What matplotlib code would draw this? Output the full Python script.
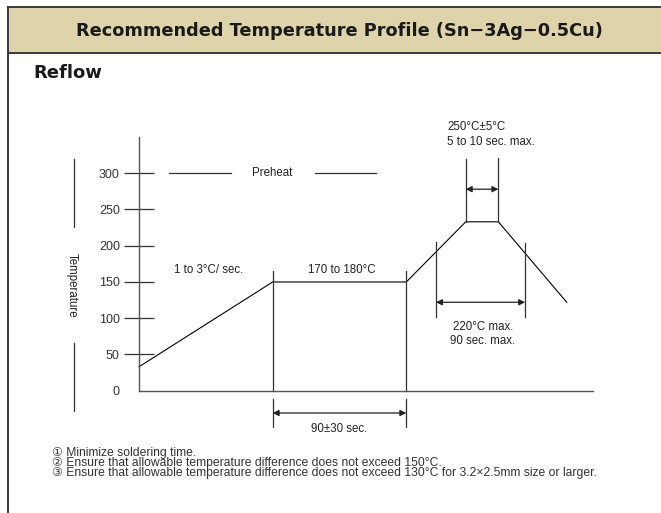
import matplotlib
matplotlib.use("Agg")
import matplotlib.pyplot as plt
from matplotlib.patches import Rectangle
from matplotlib.lines import Line2D

plt.rcParams['font.family'] = ['Liberation Sans', 'DejaVu Sans']

# profile (time in s, temperature in degC)
prof_t = [0, 90, 180, 220, 242, 288]
prof_T = [33, 150, 150, 233, 233, 122]

yticks = [0, 50, 100, 150, 200, 250, 300]

title = "Recommended Temperature Profile (Sn\u22123Ag\u22120.5Cu)"
notes = ["\u2460 Minimize soldering time.",
         "\u2461 Ensure that allowable temperature difference does not exceed 150\u00b0C.",
         "\u2462 Ensure that allowable temperature difference does not exceed 130\u00b0C for 3.2\u00d72.5mm size or larger."]

W, H = 661, 513
fig = plt.figure(figsize=(W / 100, H / 100), dpi=100)
fig.patch.set_facecolor("white")

# header band + frame
fig.patches.append(Rectangle((8 / W, 1 - 53 / H), 1, 46 / H, transform=fig.transFigure,
                             facecolor="#dfd3ab", edgecolor="none", zorder=0))
for xs, ys in [([8, 661], [7, 7]), ([8, 661], [53, 53]), ([8, 8], [7, 513])]:
    fig.add_artist(Line2D([x / W for x in xs], [1 - y / H for y in ys],
                          transform=fig.transFigure, color="#3a3a3a", lw=1.4))
bold = ['DejaVu Sans']
fig.text(339 / W, 1 - 31 / H, title, ha="center", va="center", fontsize=12.8,
         fontweight="bold", color="#1a1a1a", family=bold)
fig.text(33 / W, 1 - 73 / H, "Reflow", ha="left", va="center", fontsize=13.0,
         fontweight="bold", color="#1a1a1a", family=bold)

ax = fig.add_axes([139 / W, 1 - 390.7 / H, (593 - 139) / W, (390.7 - 137) / H])
ax.set_xlim(0, 305.7)
ax.set_ylim(0, 350)
for s in ["top", "right"]:
    ax.spines[s].set_visible(False)
for s in ["left", "bottom"]:
    ax.spines[s].set_color("#555555")
    ax.spines[s].set_linewidth(1.0)
ax.set_xticks([])
ax.set_yticks(yticks)
ax.set_yticklabels([str(v) for v in yticks])
ax.tick_params(axis="y", direction="inout", length=21, width=0.9, color="#333333",
               pad=3.3, labelsize=9, labelcolor="#333333")
ax.yaxis.get_major_ticks()[0].tick1line.set_visible(False)

# profile line
ax.plot(prof_t, prof_T, color="black", lw=0.8, clip_on=False)

kw = dict(color="#333333", lw=0.9, clip_on=False)
# preheat vertical guides and bracket
ax.plot([90, 90], [165, 0], **kw)
ax.plot([180, 180], [165, 0], **kw)
ax.plot([90, 90], [-11.5, -50], **kw)
ax.plot([180, 180], [-11.5, -50], **kw)
# peak bracket
ax.plot([220, 220], [320, 233], **kw)
ax.plot([242, 242], [321, 233], **kw)
# 220 C bracket
ax.plot([200, 200], [205, 102], **kw)
ax.plot([260, 260], [204, 102], **kw)

def harrow(x0, x1, y):
    ax.annotate("", xy=(x0, y), xytext=(x1, y), annotation_clip=False,
                arrowprops=dict(arrowstyle="<|-|>", color="#222222", lw=0.9,
                                mutation_scale=9, shrinkA=0, shrinkB=0))

harrow(90, 180, -30.8)
harrow(220, 242, 278)
harrow(200, 260, 122)

# preheat dashes
ax.plot([20.2, 62], [300, 300], **kw)
ax.plot([118.5, 159.6], [300, 300], **kw)

tk = dict(fontsize=8.3, color="#222222", clip_on=False)
ax.text(89.6, 300, "Preheat", ha="center", va="center", **tk)
ax.text(46.8, 167, "1 to 3\u00b0C/ sec.", ha="center", va="center", **tk)
ax.text(136.5, 167, "170 to 180\u00b0C", ha="center", va="center", **tk)
ax.text(207.6, 353.5, "250\u00b0C\u00b15\u00b0C\n5 to 10 sec. max.", ha="left", va="center",
        linespacing=1.35, **tk)
ax.text(231.5, 78, "220\u00b0C max.\n90 sec. max.", ha="center", va="center",
        linespacing=1.15, **tk)
ax.text(134.5, -52.8, "90\u00b130 sec.", ha="center", va="center", **tk)

# temperature label with side lines
ax.plot([-43.8, -43.8], [320, 226], **kw)
ax.plot([-43.8, -43.8], [66, -28], **kw)
ax.text(-45, 146, "Temperature", rotation=-90, ha="center", va="center", **tk)

fig.text(52 / W, 1 - 447 / H, "\n".join(notes), ha="left", va="top",
         fontsize=8.7, color="#333333", linespacing=0.78)

fig.savefig("out.png", dpi=100)
